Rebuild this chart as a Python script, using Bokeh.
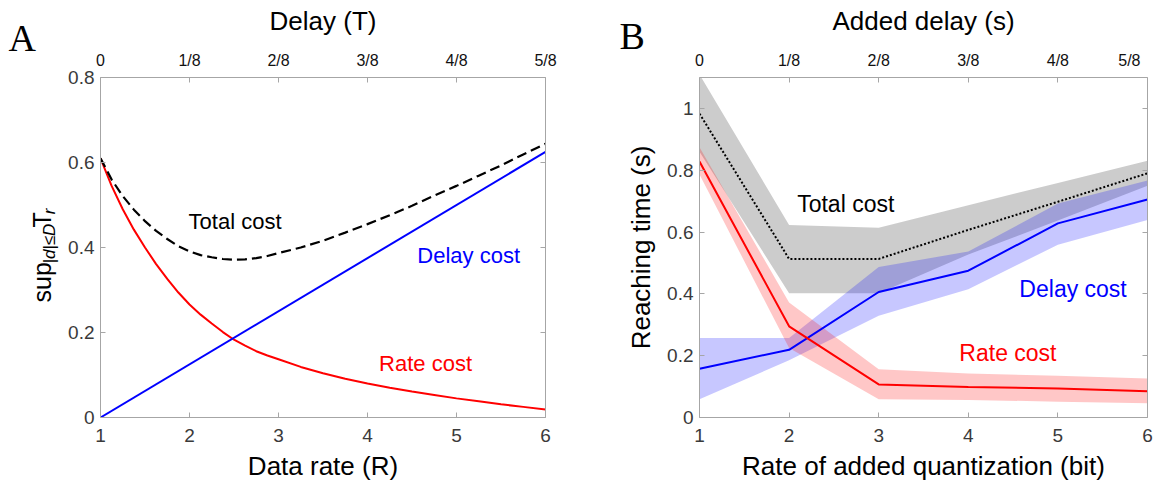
from math import pi
from bokeh.plotting import figure
from bokeh.models import LinearAxis, Label, FixedTicker, Range1d
from bokeh.layouts import row
from bokeh.embed import file_html
from bokeh.resources import INLINE

# ---------------- Panel A data ----------------
rate_R = [1.0, 1.125, 1.25, 1.375, 1.5, 1.625, 1.75, 1.875, 2.0, 2.125, 2.25, 2.375,
          2.5, 2.625, 2.75, 2.875, 3.0, 3.25, 3.5, 3.75, 4.0, 4.25, 4.5, 4.75,
          5.0, 5.25, 5.5, 5.75, 6.0]
rate_cost = [0.610, 0.545, 0.490, 0.442, 0.400, 0.361, 0.326, 0.294, 0.266, 0.242, 0.221, 0.201,
             0.183, 0.169, 0.156, 0.146, 0.137, 0.119, 0.104, 0.091, 0.080, 0.070, 0.061, 0.053,
             0.045, 0.038, 0.031, 0.025, 0.019]
total_cost = [0.610, 0.560, 0.521, 0.489, 0.462, 0.439, 0.420, 0.403, 0.391, 0.382, 0.377, 0.373,
              0.371, 0.372, 0.375, 0.380, 0.387, 0.400, 0.416, 0.435, 0.455, 0.476, 0.498, 0.522,
              0.545, 0.569, 0.593, 0.619, 0.644]
delay_R = [1.0, 6.0]
delay_cost = [0.0, 0.625]

a_yticks = [0, 0.2, 0.4, 0.6, 0.8]
a_ylabels = ["0", "0.2", "0.4", "0.6", "0.8"]

# ---------------- Panel B data ----------------
bits = [1, 2, 3, 4, 5, 6]
delay_labels = ["0", "1/8", "2/8", "3/8", "4/8", "5/8"]
total_mean = [0.983, 0.513, 0.513, 0.607, 0.698, 0.790]
total_lo = [0.860, 0.402, 0.402, 0.527, 0.637, 0.750]
total_hi = [1.110, 0.623, 0.614, 0.687, 0.759, 0.831]
delay_mean = [0.158, 0.219, 0.406, 0.475, 0.628, 0.705]
delay_lo = [0.059, 0.185, 0.329, 0.415, 0.559, 0.639]
delay_hi = [0.257, 0.257, 0.487, 0.537, 0.692, 0.767]
rate_mean = [0.828, 0.295, 0.107, 0.099, 0.094, 0.085]
rate_lo = [0.786, 0.225, 0.059, 0.057, 0.051, 0.046]
rate_hi = [0.874, 0.372, 0.156, 0.142, 0.135, 0.126]

b_yticks = [0, 0.2, 0.4, 0.6, 0.8, 1.0]
b_ylabels = ["0", "0.2", "0.4", "0.6", "0.8", "1"]

FONT = "Liberation Sans"
AXIS_GRAY = "#a6a6a6"
TICK_TXT = "#3a3a3a"
NB = "\u00a0"


def make_axis(ticks, labels, font_size, color, show=True, title=None,
              label_standoff=6, title_standoff=8):
    ax = LinearAxis(ticker=FixedTicker(ticks=ticks))
    ax.major_label_overrides = {t: (l if show else "") for t, l in zip(ticks, labels)}
    ax.major_label_text_font = FONT
    ax.major_label_text_font_size = font_size
    ax.major_label_text_color = color
    ax.axis_line_color = AXIS_GRAY
    ax.major_tick_line_color = AXIS_GRAY
    ax.major_tick_in = 5
    ax.major_tick_out = 0
    ax.minor_tick_line_color = None
    ax.major_label_standoff = label_standoff
    if title is not None:
        ax.axis_label = title
        ax.axis_label_text_font = FONT
        ax.axis_label_text_font_size = "26px"
        ax.axis_label_text_font_style = "normal"
        ax.axis_label_text_color = "black"
        ax.axis_label_standoff = title_standoff
    return ax


def base_fig(width, yr, left, right, bottom):
    p = figure(width=width, height=489, x_range=Range1d(1, 6), y_range=Range1d(*yr),
               x_axis_type=None, y_axis_type=None, output_backend="svg",
               toolbar_location=None, min_border_left=left, min_border_right=right,
               min_border_top=77, min_border_bottom=bottom)
    p.outline_line_color = None
    p.xgrid.visible = False
    p.ygrid.visible = False
    p.background_fill_color = "white"
    p.border_fill_color = "white"
    return p


def side_label(p, side, txt, x, y, size, font=FONT, style="normal", angle=0.0):
    p.add_layout(Label(x=x, y=y, x_units="screen", y_units="screen", text=txt, angle=angle,
                       text_font=font, text_font_size=size, text_font_style=style,
                       text_color="black", text_align="left", text_baseline="alphabetic"),
                 side)


x_labels = [str(b) for b in bits]

# ---------------- Panel A ----------------
pa = base_fig(578, (0, 0.8), 100, 33, 72)
pa.add_layout(make_axis(bits, x_labels, "19px", TICK_TXT, title="Data rate (R)",
                        label_standoff=11, title_standoff=6), "below")
pa.add_layout(make_axis(bits, delay_labels, "16px", "#111111", title="Delay (T)",
                        label_standoff=9, title_standoff=13), "above")
pa.add_layout(make_axis(a_yticks, a_ylabels, "19px", TICK_TXT), "left")
pa.add_layout(make_axis(a_yticks, a_ylabels, "19px", TICK_TXT, show=False,
                        label_standoff=0), "right")

pa.line(rate_R, rate_cost, line_color="#ff0000", line_width=2)
pa.line(delay_R, delay_cost, line_color="#0000ff", line_width=2)
pa.line(rate_R, total_cost, line_color="black", line_width=2.2, line_dash="10 5")

for txt, x, y, col in [("Total cost", 1.99, 0.461, "black"),
                       ("Delay cost", 4.56, 0.381, "#0000ff"),
                       ("Rate cost", 4.13, 0.126, "#ff0000")]:
    pa.add_layout(Label(x=x, y=y, text=txt, text_font=FONT, text_font_size="22px",
                        text_color=col, text_align="left", text_baseline="middle"))

# y label  sup_{|d|<=D} T_r  (rotated, in the left side panel)
side_label(pa, "left", "sup" + NB * 5 + "T", 4, 115, "25px", angle=pi / 2)
side_label(pa, "left", "|d|≤D" + NB * 2 + "r", 31, 154, "17px", style="italic", angle=pi / 2)
# panel letter A (right side panel, shifted back to the left edge)
side_label(pa, "right", "A", -537, 380, "38px", font="Liberation Serif")

# ---------------- Panel B ----------------
pb = base_fig(578, (0, 1.1), 121, 9, 70)
pb.add_layout(make_axis(bits, x_labels, "19px", TICK_TXT,
                        title="Rate of added quantization (bit)",
                        label_standoff=11, title_standoff=6), "below")
top_labels = delay_labels[:-1] + [delay_labels[-1] + "\u2003"]
pb.add_layout(make_axis(bits, top_labels, "16px", "#111111", title="Added delay (s)",
                        label_standoff=9, title_standoff=13), "above")
pb.add_layout(make_axis(b_yticks, b_ylabels, "19px", TICK_TXT, title="Reaching time (s)"), "left")
pb.add_layout(make_axis(b_yticks, b_ylabels, "19px", TICK_TXT, show=False,
                        label_standoff=0), "right")

pb.varea(x=bits, y1=total_lo, y2=total_hi, fill_color="black", fill_alpha=0.2)
pb.varea(x=bits, y1=delay_lo, y2=delay_hi, fill_color="#0000ff", fill_alpha=0.22)
pb.varea(x=bits, y1=rate_lo, y2=rate_hi, fill_color="#ff0000", fill_alpha=0.22)
pb.line(bits, total_mean, line_color="black", line_width=2, line_dash="2 2")
pb.line(bits, delay_mean, line_color="#0000ff", line_width=2)
pb.line(bits, rate_mean, line_color="#ff0000", line_width=2)

for txt, x, y, col in [("Total cost", 2.09, 0.69, "black"),
                       ("Delay cost", 4.57, 0.415, "#0000ff"),
                       ("Rate cost", 3.9, 0.209, "#ff0000")]:
    pb.add_layout(Label(x=x, y=y, text=txt, text_font=FONT, text_font_size="23px",
                        text_color=col, text_align="left", text_baseline="middle"))

side_label(pb, "left", "B", 21, 382, "38px", font="Liberation Serif")

layout = row(pa, pb, spacing=0)
open("out.html", "w").write(file_html(layout, INLINE))
